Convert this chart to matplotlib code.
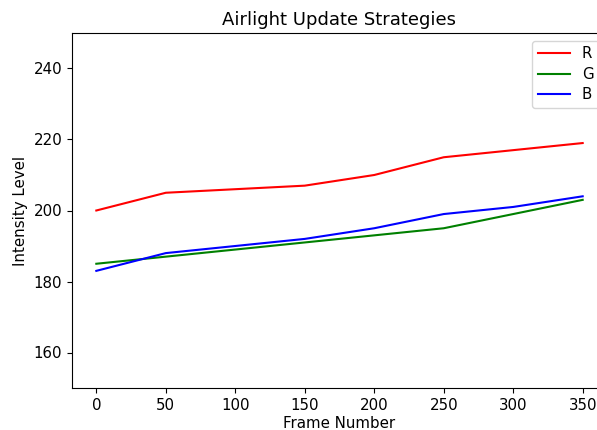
import matplotlib
matplotlib.use('Agg')
import matplotlib.pyplot as plt

# Data
frames = [0, 50, 100, 150, 200, 250, 300, 350]
r_vals = [200, 205, 206, 207, 210, 215, 217, 219]
g_vals = [185, 187, 189, 191, 193, 195, 199, 203]
b_vals = [183, 188, 190, 192, 195, 199, 201, 204]

plt.rcParams['font.size'] = 10.8

fig = plt.figure(figsize=(5.97, 4.30), dpi=100)
# axes runs slightly past the right edge, as in the reference
ax = fig.add_axes([72 / 597, 42 / 430, 535 / 597, 355 / 430])

ax.plot(frames, r_vals, color='red', label='R')
ax.plot(frames, g_vals, color='green', label='G')
ax.plot(frames, b_vals, color='blue', label='B')

ax.set_ylim(150, 250)
ax.set_xticks(frames)
ax.set_yticks([160, 180, 200, 220, 240])
ax.set_title('Airlight Update Strategies', fontsize=13)
ax.set_xlabel('Frame Number', labelpad=2)
ax.set_ylabel('Intensity Level')
ax.legend(loc='upper right', handlelength=2.1, labelspacing=0.35)

fig.savefig('out.png', dpi=100)
